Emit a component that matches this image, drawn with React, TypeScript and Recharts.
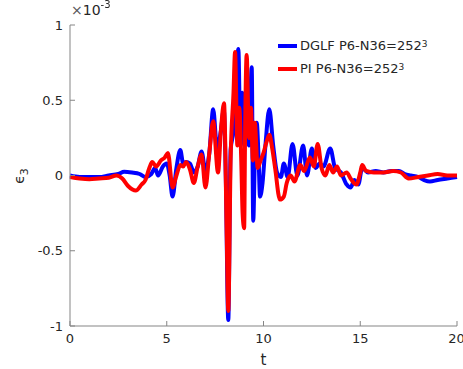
import React from 'react';
import { LineChart, Line, XAxis, YAxis } from 'recharts';

// values in units of 1e-3
const dglfT = [
  0, 0.5, 1, 1.5, 2, 2.5, 2.8, 3.2, 3.6, 3.9, 4.2, 4.4, 4.55, 4.8, 5, 5.15, 5.3, 5.5, 5.7, 5.85,
  6, 6.2, 6.4, 6.6, 6.8, 7, 7.2, 7.4, 7.6, 7.8, 7.95, 8.05, 8.18, 8.3, 8.45, 8.55, 8.7, 8.8, 8.9, 9,
  9.1, 9.25, 9.39, 9.47, 9.55, 9.65, 9.75, 9.82, 9.95, 10.1, 10.3, 10.5, 10.7, 10.9, 11.05, 11.25,
  11.5, 11.75, 12.05, 12.25, 12.5, 12.7, 12.9, 13.1, 13.45, 13.7, 14, 14.3, 14.5, 14.7, 14.9, 15.1,
  15.4, 15.8, 16.2, 16.6, 17, 17.3, 17.6, 18, 18.3, 18.6, 19, 19.5, 20,
];
const dglfE = [
  0, -0.01, -0.01, -0.01, 0, 0.01, 0.025, 0.02, 0.01, -0.01, 0.01, 0.05, 0, 0.06, 0.08, 0, -0.14, 0.05, 0.17, 0.08,
  0.09, 0.08, 0.02, 0.06, 0.16, 0.03, 0.15, 0.44, 0.18, 0.3, 0.44, 0, -0.96, 0.17, 0.3, 0.5, 0.84, 0.3, 0.55, 0.2,
  0.5, 0.2, 0.72, -0.3, 0.1, 0.35, 0.1, -0.14, -0.05, 0.2, 0.44, 0.2, 0.02, -0.01, 0.08, -0.01,
  0.21, 0, 0.2, 0, 0.18, 0.05, 0.08, 0.06, 0.18, 0.05, 0.02, -0.06, -0.08, -0.03, -0.06, 0.05,
  0.02, 0.03, 0.02, 0.03, 0.03, 0.01, 0, -0.01, -0.03, -0.04, -0.03, -0.02, -0.01,
];

const piT = [
  0, 0.5, 1, 1.5, 2, 2.4, 2.7, 3, 3.4, 3.7, 3.9, 4.1, 4.25, 4.45, 4.7, 4.9, 5.06, 5.3, 5.5, 5.7, 5.85,
  6, 6.2, 6.4, 6.6, 6.8, 7, 7.2, 7.4, 7.65, 7.8, 7.96, 8.1, 8.18, 8.3, 8.45, 8.53, 8.65, 8.75, 8.85,
  8.92, 9, 9.05, 9.13, 9.25, 9.35, 9.45, 9.55, 9.7, 9.85, 10, 10.15, 10.3, 10.45, 10.6, 10.85, 11.05,
  11.2, 11.4, 11.6, 11.9, 12.1, 12.4, 12.6, 12.8, 13, 13.2, 13.4, 13.6, 13.8, 14, 14.3, 14.5, 14.8,
  15, 15.1, 15.3, 15.7, 16.2, 16.7, 17.1, 17.5, 18, 18.5, 19, 19.5, 20,
];
const piE = [
  -0.01, -0.02, -0.025, -0.02, -0.015, 0, -0.02, -0.07, -0.1, -0.06, -0.03, 0.05, 0.09, 0.06, 0.1, 0.12, 0.15, -0.08, 0, 0.07, 0.06,
  0.09, 0.04, -0.05, 0.06, 0.14, -0.08, 0.15, 0.36, 0.02, 0.3, 0.48, -0.4, -0.9, 0.1, 0.55, 0.82, 0.2, 0.45, 0.1,
  -0.25, -0.35, 0.3, 0.8, 0.25, 0.45, 0.1, 0.35, 0.05, 0.1, 0.15, 0.22, 0.27, 0.18, 0.05, -0.16, -0.14,
  -0.05, 0, -0.04, 0.07, 0.03, 0.12, 0.06, 0.21, 0.05, 0, 0.07, 0.02, 0.06, 0, 0.02, -0.02, -0.06,
  0.02, 0.07, 0.03, 0.02, 0.02, 0.03, 0.02, -0.02, -0.01, 0, 0.01, 0, 0,
];

const xTicks = [0, 5, 10, 15, 20];
const yTicks = [-1, -0.5, 0, 0.5, 1];

const dglfData = dglfT.map((t, i) => ({ t, e: dglfE[i] }));
const piData = piT.map((t, i) => ({ t, e: piE[i] }));

const FONT = '"DejaVu Sans", sans-serif';
const AXIS = '#858585';
const TEXT = '#262626';

const noLabel = () => <g />;

export default function App() {
  return (
    <div style={{ position: 'fixed', left: 0, top: 0, width: 463, height: 369, background: '#fff', fontFamily: FONT }}>
      <LineChart width={463} height={369} margin={{ top: 25, right: 6, left: 0, bottom: 0 }}>
        <XAxis
          dataKey="t"
          type="number"
          domain={[0, 20]}
          ticks={xTicks}
          allowDuplicatedCategory={false}
          height={43}
          stroke={AXIS}
          tickSize={-5}
          tickMargin={13}
          tick={{ fill: TEXT, fontSize: 13, fontFamily: FONT }}
          label={{ value: 't', position: 'insideBottom', offset: 4, fill: TEXT, fontSize: 15, fontFamily: FONT }}
        />
        <XAxis
          xAxisId="top"
          orientation="top"
          dataKey="t"
          type="number"
          domain={[0, 20]}
          ticks={xTicks}
          height={0}
          stroke={AXIS}
          tickSize={-5}
          tick={noLabel}
        />
        <YAxis
          type="number"
          domain={[-1, 1]}
          ticks={yTicks}
          width={70}
          stroke={AXIS}
          tickSize={-5}
          tickMargin={12}
          tick={{ fill: TEXT, fontSize: 13, fontFamily: FONT }}
        />
        <YAxis
          yAxisId="right"
          orientation="right"
          type="number"
          domain={[-1, 1]}
          ticks={yTicks}
          width={0}
          stroke={AXIS}
          tickSize={-5}
          tick={noLabel}
        />
        <Line
          data={dglfData}
          dataKey="e"
          type="monotone"
          stroke="#0000ff"
          strokeWidth={4}
          dot={false}
          isAnimationActive={false}
          name="DGLF P6-N36=252^3"
        />
        <Line
          data={piData}
          dataKey="e"
          type="monotone"
          stroke="#ff0000"
          strokeWidth={4}
          dot={false}
          isAnimationActive={false}
          name="PI P6-N36=252^3"
        />
      </LineChart>

      {/* exponent note */}
      <div style={{ position: 'absolute', left: 71, top: 2, fontSize: 14, color: TEXT, whiteSpace: 'nowrap' }}>
        <span style={{ color: '#555' }}>×</span>10<sup style={{ fontSize: 10, verticalAlign: 'top', position: 'relative', top: -3 }}>-3</sup>
      </div>

      {/* y label */}
      <div
        style={{
          position: 'absolute',
          left: 21,
          top: 176,
          transform: 'translate(-50%, -50%) rotate(-90deg)',
          fontSize: 14,
          color: TEXT,
          whiteSpace: 'nowrap',
        }}
      >
        ϵ<sub style={{ fontSize: 11 }}>3</sub>
      </div>

      {/* legend */}
      <div style={{ position: 'absolute', left: 270, top: 34, fontSize: 13, color: TEXT, lineHeight: '23px', whiteSpace: 'nowrap' }}>
        <div style={{ display: 'flex', alignItems: 'center' }}>
          <span style={{ display: 'inline-block', width: 19, height: 4, background: '#0000ff', marginLeft: 8, marginRight: 3 }} />
          DGLF P6-N36=252<sup style={{ fontSize: 9, lineHeight: 0, position: 'relative', top: -2 }}>3</sup>
        </div>
        <div style={{ display: 'flex', alignItems: 'center' }}>
          <span style={{ display: 'inline-block', width: 19, height: 4, background: '#ff0000', marginLeft: 8, marginRight: 3 }} />
          PI P6-N36=252<sup style={{ fontSize: 9, lineHeight: 0, position: 'relative', top: -2 }}>3</sup>
        </div>
      </div>
    </div>
  );
}
